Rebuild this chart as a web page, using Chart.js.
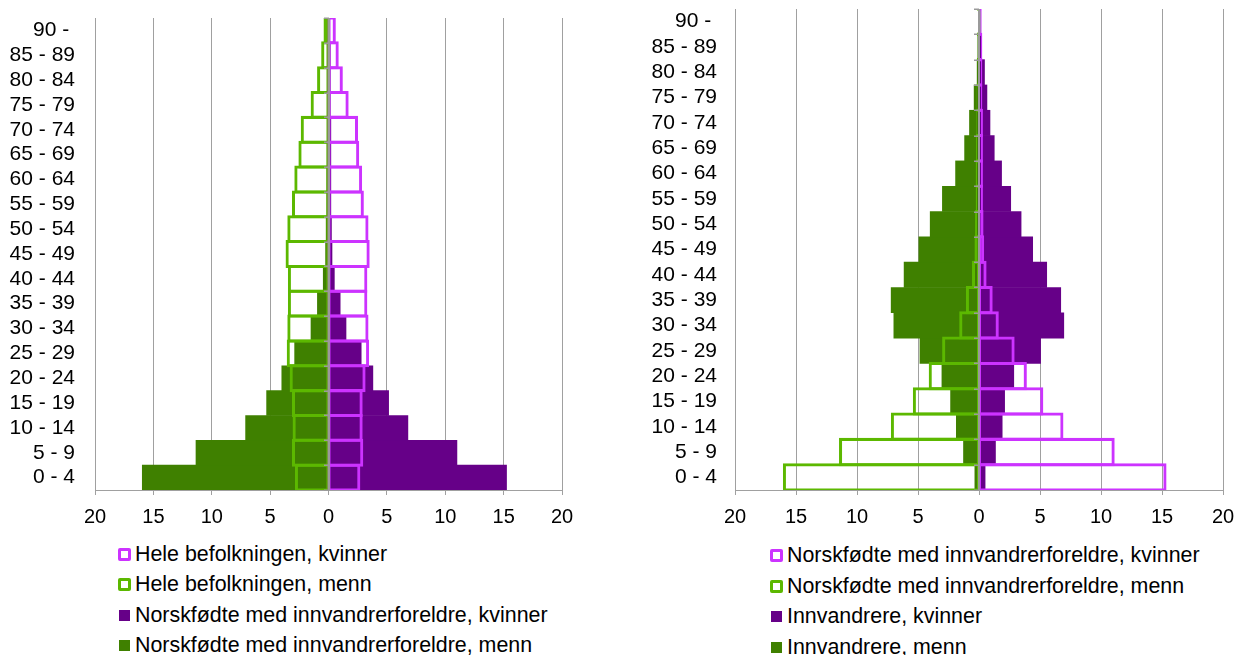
<!DOCTYPE html>
<html>
<head>
<meta charset="utf-8">
<script src="https://cdn.jsdelivr.net/npm/chart.js@4/dist/chart.umd.min.js"></script>
<style>
  html, body { margin:0; padding:0; background:#fff; }
  body { width:1238px; height:655px; position:relative; overflow:hidden; font-family:"Liberation Sans", Arial, sans-serif; }
  canvas { position:absolute; top:0; }
  .legend { position:absolute; font-size:21.4px; color:#000; }
  .row { display:flex; align-items:center; white-space:nowrap; }
  .mk { display:inline-block; box-sizing:border-box; margin-right:4px; flex:none; }
  .mk.outline { width:13px; height:13px; border:3px solid; border-radius:2px; background:#fff; }
  .mk.solid { width:11px; height:11px; margin-left:1px; margin-right:5px; }
</style>
</head>
<body>
<canvas id="left" width="600" height="530" style="left:0px"></canvas>
<canvas id="right" width="618" height="530" style="left:620px"></canvas>

<div class="legend" id="legL" style="left:118px; top:539px;"></div>
<div class="legend" id="legR" style="left:770px; top:540px;"></div>

<script>
// ---- categories (bottom to top) ----
const ageGroups = ['0 - 4','5 - 9','10 - 14','15 - 19','20 - 24','25 - 29','30 - 34','35 - 39','40 - 44','45 - 49','50 - 54','55 - 59','60 - 64','65 - 69','70 - 74','75 - 79','80 - 84','85 - 89','90 - '];

// ---- values, per cent of each group (0-4 ... 90-) ----
const heleKvinner = [2.6, 2.85, 2.8, 2.8, 3.05, 3.35, 3.3, 3.2, 3.2, 3.4, 3.3, 2.9, 2.75, 2.5, 2.4, 1.6, 1.1, 0.75, 0.5];
const heleMenn    = [2.75, 3.0, 2.95, 3.0, 3.2, 3.45, 3.4, 3.35, 3.35, 3.55, 3.4, 3.0, 2.8, 2.45, 2.25, 1.4, 0.85, 0.5, 0.3];
const norskfKvinner = [15.25, 11.0, 6.8, 5.15, 3.8, 2.8, 1.5, 1.0, 0.5, 0.3, 0.25, 0.2, 0.2, 0.2, 0.2, 0.15, 0.15, 0.15, 0.1];
const norskfMenn    = [15.95, 11.35, 7.1, 5.3, 4.0, 2.9, 1.5, 0.95, 0.45, 0.25, 0.2, 0.15, 0.15, 0.12, 0.1, 0.08, 0.06, 0.05, 0.04];
const innvKvinner = [0.5, 1.35, 1.9, 2.1, 2.85, 5.05, 6.95, 6.7, 5.55, 4.4, 3.45, 2.6, 1.85, 1.25, 0.9, 0.65, 0.45, 0.2, 0.1];
const innvMenn    = [0.34, 1.27, 1.86, 2.33, 3.04, 4.84, 6.98, 7.2, 6.14, 4.93, 4.0, 3.0, 1.92, 1.18, 0.78, 0.4, 0.15, 0.1, 0.05];

// ---- axis ticks ----
const xMin = -20, xMax = 20, xStep = 5;

// ---- labels ----
const leftLabels = ['Hele befolkningen, kvinner', 'Hele befolkningen, menn', 'Norskfødte med innvandrerforeldre, kvinner', 'Norskfødte med innvandrerforeldre, menn'];
const rightLabels = ['Norskfødte med innvandrerforeldre, kvinner', 'Norskfødte med innvandrerforeldre, menn', 'Innvandrere, kvinner', 'Innvandrere, menn'];

const MAGENTA = '#CC33FF', LIGHTGREEN = '#5CB800', PURPLE = '#660088', DARKGREEN = '#3F8000';
const FONT = '"Liberation Sans", Arial, sans-serif';
const neg = a => a.map(v => -v);

function outlineSet(label, data, color) {
  return { label, data, backgroundColor: 'rgba(0,0,0,0)', borderColor: color, borderWidth: 0.01,
           inflateAmount: 1.5, borderSkipped: false, grouped: false, barPercentage: 1, categoryPercentage: 1 };
}
function solidSet(label, data, color) {
  return { label, data, backgroundColor: color, borderWidth: 0, grouped: false, barPercentage: 1, categoryPercentage: 1 };
}

const zeroAxis = {
  id: 'zeroAxis',
  afterDatasetsDraw(chart) {
    const { ctx, chartArea, scales: { x, y } } = chart;
    const px = Math.round(x.getPixelForValue(0));
    ctx.save();
    ctx.strokeStyle = '#9a9a9a';
    ctx.lineWidth = 2;
    ctx.beginPath();
    ctx.moveTo(px, chartArea.top);
    ctx.lineTo(px, chartArea.bottom);
    ctx.stroke();
    ctx.lineWidth = 1.5;
    for (let i = 0; i <= y.ticks.length; i++) {
      const yy = Math.round(y.getPixelForValue(i - 0.5)) + 0.25;
      ctx.beginPath();
      ctx.moveTo(px - 5, yy);
      ctx.lineTo(px, yy);
      ctx.stroke();
    }
    ctx.restore();
  }
};

function makeChart(id, datasets, yWidth, padTop, padRight, yPad) {
  return new Chart(document.getElementById(id), {
    type: 'bar',
    data: { labels: ageGroups, datasets },
    plugins: [zeroAxis],
    options: {
      indexAxis: 'y',
      responsive: false,
      devicePixelRatio: 1,
      animation: false,
      layout: { padding: { top: padTop, right: padRight, left: 0, bottom: 0 } },
      plugins: { legend: { display: false }, tooltip: { enabled: false } },
      scales: {
        x: {
          min: xMin, max: xMax,
          ticks: { stepSize: xStep, callback: v => Math.abs(v), color: '#000', font: { family: FONT, size: 20 }, padding: 10, maxRotation: 0, autoSkip: false },
          grid: { color: '#a0a0a0', lineWidth: 1, drawTicks: true, tickLength: 5, tickColor: '#a0a0a0' },
          border: { display: true, color: '#a0a0a0', width: 1 },
          afterFit: s => { s.height = 40; s.paddingLeft = 0; s.paddingRight = 0; }
        },
        y: {
          reverse: true,
          grid: { display: false, drawTicks: false },
          border: { display: false },
          ticks: { color: '#000', font: { family: FONT, size: 21 }, padding: yPad, autoSkip: false },
          afterFit: s => { s.width = yWidth; s.paddingTop = 0; s.paddingBottom = 0; }
        }
      }
    }
  });
}

makeChart('left', [
  outlineSet(leftLabels[0], heleKvinner, MAGENTA),
  outlineSet(leftLabels[1], neg(heleMenn), LIGHTGREEN),
  solidSet(leftLabels[2], norskfKvinner, PURPLE),
  solidSet(leftLabels[3], neg(norskfMenn), DARKGREEN)
], 95, 18, 38, 20);

makeChart('right', [
  outlineSet(rightLabels[0], norskfKvinner, MAGENTA),
  outlineSet(rightLabels[1], neg(norskfMenn), LIGHTGREEN),
  solidSet(rightLabels[2], innvKvinner, PURPLE),
  solidSet(rightLabels[3], neg(innvMenn), DARKGREEN)
], 115, 9, 15, 18);

function buildLegend(el, labels, rowH) {
  const styles = [['outline', MAGENTA], ['outline', LIGHTGREEN], ['solid', PURPLE], ['solid', DARKGREEN]];
  labels.forEach((t, i) => {
    const row = document.createElement('div');
    row.className = 'row';
    row.style.height = rowH + 'px';
    const mk = document.createElement('span');
    mk.className = 'mk ' + styles[i][0];
    if (styles[i][0] === 'outline') mk.style.borderColor = styles[i][1]; else mk.style.background = styles[i][1];
    const tx = document.createElement('span');
    tx.textContent = t;
    row.appendChild(mk); row.appendChild(tx);
    el.appendChild(row);
  });
}
buildLegend(document.getElementById('legL'), leftLabels, 30.5);
buildLegend(document.getElementById('legR'), rightLabels, 30.8);
</script>
</body>
</html>
